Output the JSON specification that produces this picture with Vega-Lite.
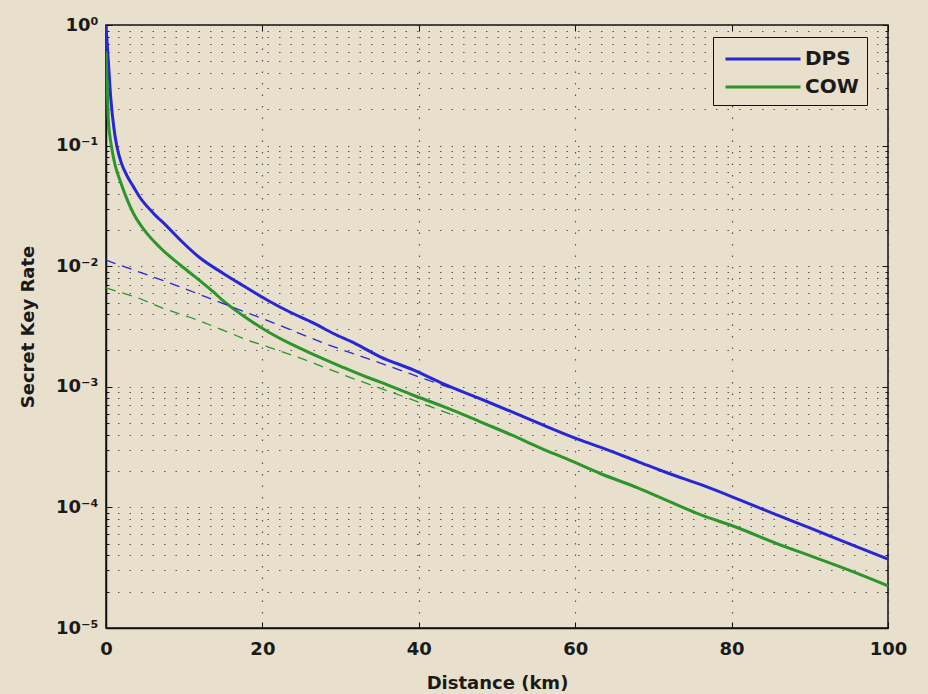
{
  "$schema": "https://vega.github.io/schema/vega-lite/v6.json",
  "width": 782,
  "height": 603,
  "autosize": {"type": "none"},
  "padding": {"left": 106, "top": 25, "right": 40, "bottom": 66},
  "background": "#e8e0cc",
  "config": {
    "view": {"stroke": "#111111", "strokeWidth": 1.5, "fill": "#e8e0cc"},
    "font": "DejaVu Sans",
    "axis": {
      "domainColor": "#111111",
      "domainWidth": 1.5,
      "tickColor": "#111111",
      "labelFont": "DejaVu Sans",
      "labelFontWeight": "bold",
      "labelFontSize": 18,
      "labelColor": "#1a1a1a",
      "labelFlush": false,
      "titleFont": "DejaVu Sans",
      "titleFontWeight": "bold",
      "titleFontSize": 18,
      "titleColor": "#1a1a1a",
      "gridColor": "#333333",
      "gridDash": [1.5, 10],
      "gridWidth": 1.2,
      "gridOpacity": 0.8
    }
  },
  "datasets": {
    "curves": [
      {"series": "DPS", "kind": "solid", "distance": 0, "rate": 0.98},
      {"series": "DPS", "kind": "solid", "distance": 0.3, "rate": 0.501},
      {"series": "DPS", "kind": "solid", "distance": 0.6, "rate": 0.251},
      {"series": "DPS", "kind": "solid", "distance": 1.0, "rate": 0.1413},
      {"series": "DPS", "kind": "solid", "distance": 1.4, "rate": 0.0977},
      {"series": "DPS", "kind": "solid", "distance": 2.0, "rate": 0.0708},
      {"series": "DPS", "kind": "solid", "distance": 2.7, "rate": 0.056},
      {"series": "DPS", "kind": "solid", "distance": 3.5, "rate": 0.0457},
      {"series": "DPS", "kind": "solid", "distance": 4.3, "rate": 0.0375},
      {"series": "DPS", "kind": "solid", "distance": 6, "rate": 0.0278},
      {"series": "DPS", "kind": "solid", "distance": 7.8, "rate": 0.0214},
      {"series": "DPS", "kind": "solid", "distance": 9.5, "rate": 0.0165},
      {"series": "DPS", "kind": "solid", "distance": 12, "rate": 0.01175},
      {"series": "DPS", "kind": "solid", "distance": 15, "rate": 0.00871},
      {"series": "DPS", "kind": "solid", "distance": 17.5, "rate": 0.00692},
      {"series": "DPS", "kind": "solid", "distance": 20.6, "rate": 0.00525},
      {"series": "DPS", "kind": "solid", "distance": 23.5, "rate": 0.00417},
      {"series": "DPS", "kind": "solid", "distance": 26.5, "rate": 0.00339},
      {"series": "DPS", "kind": "solid", "distance": 29, "rate": 0.00278},
      {"series": "DPS", "kind": "solid", "distance": 32, "rate": 0.00226},
      {"series": "DPS", "kind": "solid", "distance": 35, "rate": 0.00178},
      {"series": "DPS", "kind": "solid", "distance": 39.3, "rate": 0.00138},
      {"series": "DPS", "kind": "solid", "distance": 43, "rate": 0.00107},
      {"series": "DPS", "kind": "solid", "distance": 47.5, "rate": 0.000813},
      {"series": "DPS", "kind": "solid", "distance": 52, "rate": 0.000617},
      {"series": "DPS", "kind": "solid", "distance": 56, "rate": 0.000479},
      {"series": "DPS", "kind": "solid", "distance": 60.6, "rate": 0.000363},
      {"series": "DPS", "kind": "solid", "distance": 63.2, "rate": 0.000316},
      {"series": "DPS", "kind": "solid", "distance": 68, "rate": 0.00024},
      {"series": "DPS", "kind": "solid", "distance": 72, "rate": 0.000191},
      {"series": "DPS", "kind": "solid", "distance": 76, "rate": 0.000155},
      {"series": "DPS", "kind": "solid", "distance": 80, "rate": 0.000123},
      {"series": "DPS", "kind": "solid", "distance": 85.3, "rate": 0.0000891},
      {"series": "DPS", "kind": "solid", "distance": 90, "rate": 0.0000676},
      {"series": "DPS", "kind": "solid", "distance": 95, "rate": 0.0000501},
      {"series": "DPS", "kind": "solid", "distance": 100, "rate": 0.0000372},
      {"series": "COW", "kind": "solid", "distance": 0, "rate": 0.603},
      {"series": "COW", "kind": "solid", "distance": 0.15, "rate": 0.316},
      {"series": "COW", "kind": "solid", "distance": 0.3, "rate": 0.162},
      {"series": "COW", "kind": "solid", "distance": 0.5, "rate": 0.12},
      {"series": "COW", "kind": "solid", "distance": 0.7, "rate": 0.0977},
      {"series": "COW", "kind": "solid", "distance": 1.2, "rate": 0.0676},
      {"series": "COW", "kind": "solid", "distance": 1.8, "rate": 0.0513},
      {"series": "COW", "kind": "solid", "distance": 2.5, "rate": 0.0385},
      {"series": "COW", "kind": "solid", "distance": 3.5, "rate": 0.0275},
      {"series": "COW", "kind": "solid", "distance": 5, "rate": 0.0195},
      {"series": "COW", "kind": "solid", "distance": 7, "rate": 0.0141},
      {"series": "COW", "kind": "solid", "distance": 9.5, "rate": 0.01023},
      {"series": "COW", "kind": "solid", "distance": 12, "rate": 0.00759},
      {"series": "COW", "kind": "solid", "distance": 13.7, "rate": 0.00615},
      {"series": "COW", "kind": "solid", "distance": 15, "rate": 0.00515},
      {"series": "COW", "kind": "solid", "distance": 17.5, "rate": 0.0039},
      {"series": "COW", "kind": "solid", "distance": 20.6, "rate": 0.00289},
      {"series": "COW", "kind": "solid", "distance": 23.5, "rate": 0.00229},
      {"series": "COW", "kind": "solid", "distance": 26.5, "rate": 0.00186},
      {"series": "COW", "kind": "solid", "distance": 30, "rate": 0.00148},
      {"series": "COW", "kind": "solid", "distance": 33.4, "rate": 0.0012},
      {"series": "COW", "kind": "solid", "distance": 35, "rate": 0.0011},
      {"series": "COW", "kind": "solid", "distance": 39.3, "rate": 0.000851},
      {"series": "COW", "kind": "solid", "distance": 43, "rate": 0.000692},
      {"series": "COW", "kind": "solid", "distance": 45.7, "rate": 0.000589},
      {"series": "COW", "kind": "solid", "distance": 47.8, "rate": 0.000515},
      {"series": "COW", "kind": "solid", "distance": 52, "rate": 0.000395},
      {"series": "COW", "kind": "solid", "distance": 55.5, "rate": 0.000312},
      {"series": "COW", "kind": "solid", "distance": 59, "rate": 0.000251},
      {"series": "COW", "kind": "solid", "distance": 63.2, "rate": 0.000191},
      {"series": "COW", "kind": "solid", "distance": 68, "rate": 0.000145},
      {"series": "COW", "kind": "solid", "distance": 72, "rate": 0.000112},
      {"series": "COW", "kind": "solid", "distance": 76, "rate": 0.0000871},
      {"series": "COW", "kind": "solid", "distance": 80, "rate": 0.0000708},
      {"series": "COW", "kind": "solid", "distance": 87, "rate": 0.0000468},
      {"series": "COW", "kind": "solid", "distance": 90, "rate": 0.0000398},
      {"series": "COW", "kind": "solid", "distance": 95, "rate": 0.0000302},
      {"series": "COW", "kind": "solid", "distance": 100, "rate": 0.0000224},
      {"series": "DPS", "kind": "dashed", "distance": 0, "rate": 0.01122},
      {"series": "DPS", "kind": "dashed", "distance": 7.8, "rate": 0.00741},
      {"series": "DPS", "kind": "dashed", "distance": 15, "rate": 0.0049},
      {"series": "DPS", "kind": "dashed", "distance": 21.4, "rate": 0.00339},
      {"series": "DPS", "kind": "dashed", "distance": 28.3, "rate": 0.00224},
      {"series": "DPS", "kind": "dashed", "distance": 35, "rate": 0.00158},
      {"series": "DPS", "kind": "dashed", "distance": 42.3, "rate": 0.00107},
      {"series": "DPS", "kind": "dashed", "distance": 45, "rate": 0.000933},
      {"series": "COW", "kind": "dashed", "distance": 0, "rate": 0.00661},
      {"series": "COW", "kind": "dashed", "distance": 4, "rate": 0.0055},
      {"series": "COW", "kind": "dashed", "distance": 7.3, "rate": 0.00447},
      {"series": "COW", "kind": "dashed", "distance": 11, "rate": 0.00372},
      {"series": "COW", "kind": "dashed", "distance": 14.2, "rate": 0.00309},
      {"series": "COW", "kind": "dashed", "distance": 18, "rate": 0.00245},
      {"series": "COW", "kind": "dashed", "distance": 24.8, "rate": 0.00174},
      {"series": "COW", "kind": "dashed", "distance": 31.6, "rate": 0.00117},
      {"series": "COW", "kind": "dashed", "distance": 38, "rate": 0.000832},
      {"series": "COW", "kind": "dashed", "distance": 45, "rate": 0.000562}
    ]
  },
  "data": {"name": "curves"},
  "resolve": {"axis": {"x": "independent", "y": "independent"}},
  "layer": [
    {
      "transform": [{"filter": "datum.kind === 'solid'"}],
      "mark": {"type": "line", "strokeWidth": 3, "clip": true, "interpolate": "monotone"},
      "encoding": {
        "x": {
          "field": "distance",
          "type": "quantitative",
          "scale": {"domain": [0, 100], "nice": false},
          "axis": {
            "orient": "bottom",
            "values": [0, 20, 40, 60, 80, 100],
            "tickSize": -6,
            "labelPadding": 18,
            "title": "Distance (km)",
            "titlePadding": 16
          }
        },
        "y": {
          "field": "rate",
          "type": "quantitative",
          "scale": {"type": "log", "domain": [0.00001, 1], "nice": false},
          "axis": {
            "orient": "left",
            "values": [0.00001, 0.00002, 0.00003, 0.00004, 0.00005, 0.00006, 0.00007, 0.00008, 0.00009, 0.0001, 0.0002, 0.0003, 0.0004, 0.0005, 0.0006, 0.0007, 0.0008, 0.0009, 0.001, 0.002, 0.003, 0.004, 0.005, 0.006, 0.007, 0.008, 0.009, 0.01, 0.02, 0.03, 0.04, 0.05, 0.06, 0.07, 0.08, 0.09, 0.1, 0.2, 0.3, 0.4, 0.5, 0.6, 0.7, 0.8, 0.9, 1],
            "labelExpr": "abs(log(datum.value)/LN10 - round(log(datum.value)/LN10)) < 0.01 ? (datum.value > 0.5 ? '10⁰' : datum.value > 0.05 ? '10⁻¹' : datum.value > 0.005 ? '10⁻²' : datum.value > 0.0005 ? '10⁻³' : datum.value > 0.00005 ? '10⁻⁴' : '10⁻⁵') : ''",
            "tickSize": {"condition": {"test": "abs(log(datum.value)/LN10 - round(log(datum.value)/LN10)) < 0.01", "value": -6}, "value": -3},
            "labelPadding": 14,
            "title": "Secret Key Rate",
            "titlePadding": 18
          }
        },
        "color": {
          "field": "series",
          "type": "nominal",
          "scale": {"domain": ["DPS", "COW"], "range": ["#2727d4", "#2c952c"]},
          "legend": {
            "orient": "none",
            "legendX": 607,
            "legendY": 12,
            "title": null,
            "symbolType": "M-1,0H5",
            "symbolSize": 625,
            "symbolStrokeWidth": 3,
            "symbolOffset": 3,
            "labelFont": "DejaVu Sans",
            "labelFontWeight": "bold",
            "labelFontSize": 20,
            "labelColor": "#1a1a1a",
            "labelOffset": 53,
            "fillColor": "#e8e0cc",
            "strokeColor": "#111111",
            "padding": 8,
            "rowPadding": 4
          }
        }
      }
    },
    {
      "transform": [{"filter": "datum.kind === 'dashed'"}],
      "mark": {"type": "line", "strokeWidth": 1.3, "strokeDash": [10, 7], "clip": true},
      "encoding": {
        "x": {
          "field": "distance",
          "type": "quantitative",
          "axis": {
            "orient": "top",
            "values": [0, 20, 40, 60, 80, 100],
            "tickSize": -6,
            "labels": false,
            "grid": false,
            "domain": false,
            "title": null
          }
        },
        "y": {
          "field": "rate",
          "type": "quantitative",
          "axis": {
            "orient": "right",
            "values": [0.00001, 0.00002, 0.00003, 0.00004, 0.00005, 0.00006, 0.00007, 0.00008, 0.00009, 0.0001, 0.0002, 0.0003, 0.0004, 0.0005, 0.0006, 0.0007, 0.0008, 0.0009, 0.001, 0.002, 0.003, 0.004, 0.005, 0.006, 0.007, 0.008, 0.009, 0.01, 0.02, 0.03, 0.04, 0.05, 0.06, 0.07, 0.08, 0.09, 0.1, 0.2, 0.3, 0.4, 0.5, 0.6, 0.7, 0.8, 0.9, 1],
            "tickSize": {"condition": {"test": "abs(log(datum.value)/LN10 - round(log(datum.value)/LN10)) < 0.01", "value": -6}, "value": -3},
            "labels": false,
            "grid": false,
            "domain": false,
            "title": null
          }
        },
        "color": {"field": "series", "type": "nominal", "legend": null}
      }
    }
  ]
}
